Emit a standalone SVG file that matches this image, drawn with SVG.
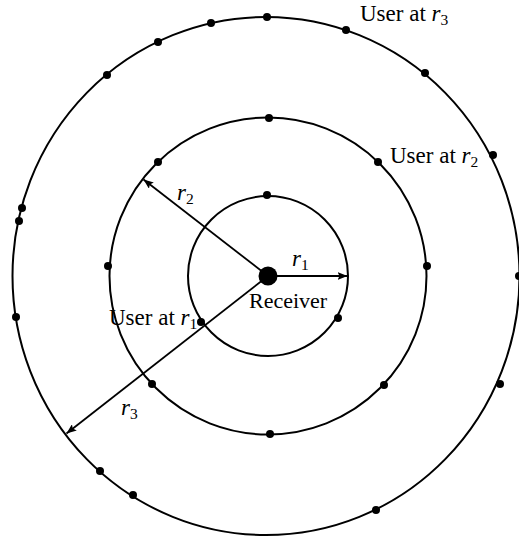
<svg xmlns="http://www.w3.org/2000/svg" width="519" height="539" viewBox="0 0 519 539">
<style>
.ring{fill:none;stroke:#000;stroke-width:2}
.dot{fill:#000}
.conn{stroke:#000;stroke-width:1.8;fill:none}
.lbl{font-family:"Liberation Serif","Times New Roman",serif;font-size:23px;fill:#000}
.rcv{font-size:22px}
.it{font-style:italic}
.sub{font-size:15.5px}
</style>
<defs>
<marker id="ah" viewBox="0 0 10 8" refX="10" refY="4" markerWidth="10" markerHeight="8" markerUnits="userSpaceOnUse" orient="auto">
<path d="M0,0 L10,4 L0,8 L2,4 Z" fill="#000"/>
</marker>
</defs>
<rect width="519" height="539" fill="#fff"/>
<g id="outer-ring">
<ellipse class="ring" cx="266" cy="276" rx="253.5" ry="259"/>
<g class="dot">
<circle cx="211" cy="23" r="4"/><circle cx="158" cy="42" r="4"/><circle cx="107" cy="75" r="4"/>
<circle cx="267" cy="17" r="4"/><circle cx="346" cy="30" r="4"/><circle cx="425" cy="73" r="4"/>
<circle cx="493" cy="155" r="4"/><circle cx="519" cy="276" r="4"/><circle cx="500" cy="384" r="4"/>
<circle cx="376" cy="510" r="4"/><circle cx="133" cy="495" r="4"/><circle cx="100" cy="471" r="4"/>
<circle cx="16" cy="317" r="4"/><circle cx="19" cy="221" r="4"/><circle cx="22" cy="208" r="4"/>
</g>
</g>
<g id="middle-ring">
<circle class="ring" cx="268" cy="276" r="158.5"/>
<g class="dot">
<circle cx="269" cy="118" r="4"/><circle cx="378" cy="162" r="4"/><circle cx="427" cy="266" r="4"/>
<circle cx="384" cy="385" r="4"/><circle cx="270" cy="434" r="4"/><circle cx="152" cy="384" r="4"/>
<circle cx="108" cy="266" r="4"/><circle cx="158" cy="162" r="4"/>
</g>
</g>
<g id="inner-ring">
<circle class="ring" cx="268" cy="276" r="80"/>
<g class="dot">
<circle cx="267" cy="195" r="4"/><circle cx="338" cy="318" r="4"/><circle cx="201" cy="322" r="4"/>
</g>
</g>
<g id="connectors">
<line class="conn" x1="268" y1="276" x2="347.5" y2="276" marker-end="url(#ah)"/>
<line class="conn" x1="268" y1="276" x2="143.5" y2="179.5" marker-end="url(#ah)"/>
<line class="conn" x1="268" y1="276" x2="66.5" y2="433.5" marker-end="url(#ah)"/>
</g>
<g id="receiver">
<circle class="dot" cx="268" cy="276" r="9.5"/>
<text class="lbl rcv" x="249" y="308">Receiver</text>
</g>
<g id="labels">
<text class="lbl it" x="292" y="266">r<tspan class="sub" font-style="normal" dy="4">1</tspan></text>
<text class="lbl it" x="177" y="200">r<tspan class="sub" font-style="normal" dy="4">2</tspan></text>
<text class="lbl it" x="121" y="415">r<tspan class="sub" font-style="normal" dy="4">3</tspan></text>
<text class="lbl" x="109" y="325">User at <tspan class="it">r</tspan><tspan class="sub" dy="4">1</tspan></text>
<text class="lbl" x="390" y="163">User at <tspan class="it">r</tspan><tspan class="sub" dy="4">2</tspan></text>
<text class="lbl" x="360" y="21">User at <tspan class="it">r</tspan><tspan class="sub" dy="4">3</tspan></text>
</g>
</svg>
